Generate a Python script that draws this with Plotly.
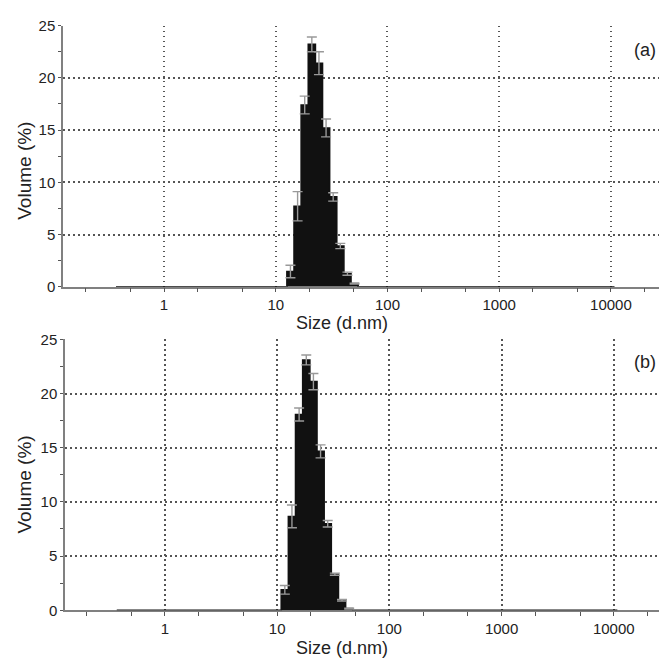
import plotly.graph_objects as go
import numpy as np

# Malvern Zetasizer size classes (d.nm)
size_classes = [0.4, 0.4632, 0.5365, 0.6213, 0.7195, 0.8332, 0.9649, 1.117, 1.294, 1.499,
                1.736, 2.01, 2.328, 2.696, 3.122, 3.615, 4.187, 4.849, 5.615, 6.503,
                7.531, 8.721, 10.1, 11.7, 13.54, 15.69, 18.17, 21.04, 24.36, 28.21,
                32.67, 37.84, 43.82, 50.75, 58.77, 68.06, 78.82, 91.28, 105.7, 122.4,
                141.8, 164.2, 190.1, 220.2, 255.0, 295.3, 342.0, 396.1, 458.7, 531.2,
                615.1, 712.4, 825.0, 955.4, 1106, 1281, 1484, 1718, 1990, 2305,
                2669, 3091, 3580, 4145, 4801, 5560, 6439, 7456, 8635, 10000]

# non-zero part of each distribution
sizes_a = [13.54, 15.69, 18.17, 21.04, 24.36, 28.21, 32.67, 37.84, 43.82, 50.75]
volume_a = [1.46, 7.7, 17.4, 23.2, 21.4, 15.2, 8.6, 3.9, 1.25, 0.3]
error_a = [0.6, 1.4, 0.85, 0.7, 1.1, 0.85, 0.4, 0.25, 0.15, 0.05]

sizes_b = [11.7, 13.54, 15.69, 18.17, 21.04, 24.36, 28.21, 32.67, 37.84, 43.82]
volume_b = [1.89, 8.66, 18.07, 23.1, 21.1, 14.66, 7.98, 3.33, 0.93, 0.15]
error_b = [0.4, 1.05, 0.6, 0.45, 0.75, 0.6, 0.3, 0.1, 0.08, 0.03]

y_ticks = [0, 5, 10, 15, 20, 25]
x_ticks = [1, 10, 100, 1000, 10000]
x_ticklabels = ["1", "10", "100", "1000", "10000"]
panel_labels = ["(a)", "(b)"]

W, H = 659, 667
FONT = "Liberation Sans, Arial"

def full_dist(sizes, vols):
    lookup = dict(zip(sizes, vols))
    return [lookup.get(c, 0.0) for c in size_classes]

def edges():
    c = np.array(size_classes)
    mids = np.sqrt(c[:-1] * c[1:])
    r = c[1] / c[0]
    return np.concatenate([[c[0] / np.sqrt(r)], mids, [c[-1] * np.sqrt(r)]])

def px_x(x):
    return x / W

def px_y(y):
    return 1 - y / H

fig = go.Figure()

panels = [
    dict(sizes=sizes_a, vols=volume_a, errs=error_a, xl=63, top=17, bot=285,
         xrange=[-0.904, 4.43], lab_y=42, ytitle_y=166, xtitle_y=322),
    dict(sizes=sizes_b, vols=volume_b, errs=error_b, xl=65, top=339, bot=617,
         xrange=[-0.891, 4.403], lab_y=362, ytitle_y=488, xtitle_y=656),
]

e = edges()
for i, p in enumerate(panels):
    n = "" if i == 0 else str(i + 1)
    dist = full_dist(p["sizes"], p["vols"])
    ys = dist + [dist[-1]]
    fig.add_trace(go.Scatter(
        x=list(e), y=ys, mode="lines", line=dict(shape="hv", color="#111111", width=1.6),
        fill="tozeroy", fillcolor="#111111", xaxis="x" + n, yaxis="y" + n,
        cliponaxis=False, showlegend=False, hoverinfo="skip"))
    fig.add_trace(go.Scatter(
        x=p["sizes"], y=p["vols"], mode="markers",
        marker=dict(size=1, color="rgba(0,0,0,0)"),
        error_y=dict(type="data", array=p["errs"], color="#999999", thickness=1.4, width=5),
        xaxis="x" + n, yaxis="y" + n, showlegend=False, hoverinfo="skip"))

    xa = dict(type="log", range=p["xrange"], domain=[px_x(p["xl"]), 1.0],
              anchor="y" + n, tickvals=x_ticks, ticktext=x_ticklabels,
              ticks="outside", ticklen=4, tickcolor="#555555", tickwidth=1,
              minor=dict(ticks="outside", ticklen=4, tickcolor="#555555", tickwidth=1, showgrid=False),
              showgrid=True, gridcolor="#555555", griddash="1.5px,3.5px", gridwidth=1.5,
              showline=True, linecolor="#808080", linewidth=1.5, zeroline=False,
              layer="below traces",
              tickfont=dict(family=FONT, size=15, color="#222222"))
    ya = dict(range=[0, 25], domain=[px_y(p["bot"]), px_y(p["top"])], anchor="x" + n,
              tickvals=y_ticks, ticks="outside", ticklen=3, tickcolor="#555555",
              minor=dict(dtick=2.5, ticks="outside", ticklen=3, tickcolor="#555555", showgrid=False),
              showgrid=True, gridcolor="#555555", griddash="1.5px,3.5px", gridwidth=1.5,
              showline=True, linecolor="#808080", linewidth=1.5, zeroline=False,
              layer="below traces",
              tickfont=dict(family=FONT, size=15, color="#222222"))
    fig.update_layout(**{"xaxis" + n: xa, "yaxis" + n: ya})

    fig.add_annotation(text=panel_labels[i], xref="paper", yref="paper",
                       x=px_x(632), y=px_y(p["lab_y"]), xanchor="left", yanchor="middle",
                       showarrow=False, font=dict(family=FONT, size=18, color="#222222"))
    fig.add_annotation(text="Volume (%)", xref="paper", yref="paper",
                       x=px_x(25), y=px_y(p["ytitle_y"]), xanchor="center", yanchor="middle",
                       textangle=-90, showarrow=False,
                       font=dict(family=FONT, size=19, color="#222222"))
    fig.add_annotation(text="Size (d.nm)", xref="paper", yref="paper",
                       x=px_x(342), y=px_y(p["xtitle_y"]), xanchor="center", yanchor="middle",
                       showarrow=False,
                       font=dict(family=FONT, size=18, color="#222222"))

fig.update_layout(width=W, height=H, margin=dict(l=0, r=0, t=0, b=0),
                  paper_bgcolor="white", plot_bgcolor="white")

fig.write_html("out.html", config={"displayModeBar": False},
               post_script="document.body.style.margin='0';document.body.style.overflow='hidden';")
